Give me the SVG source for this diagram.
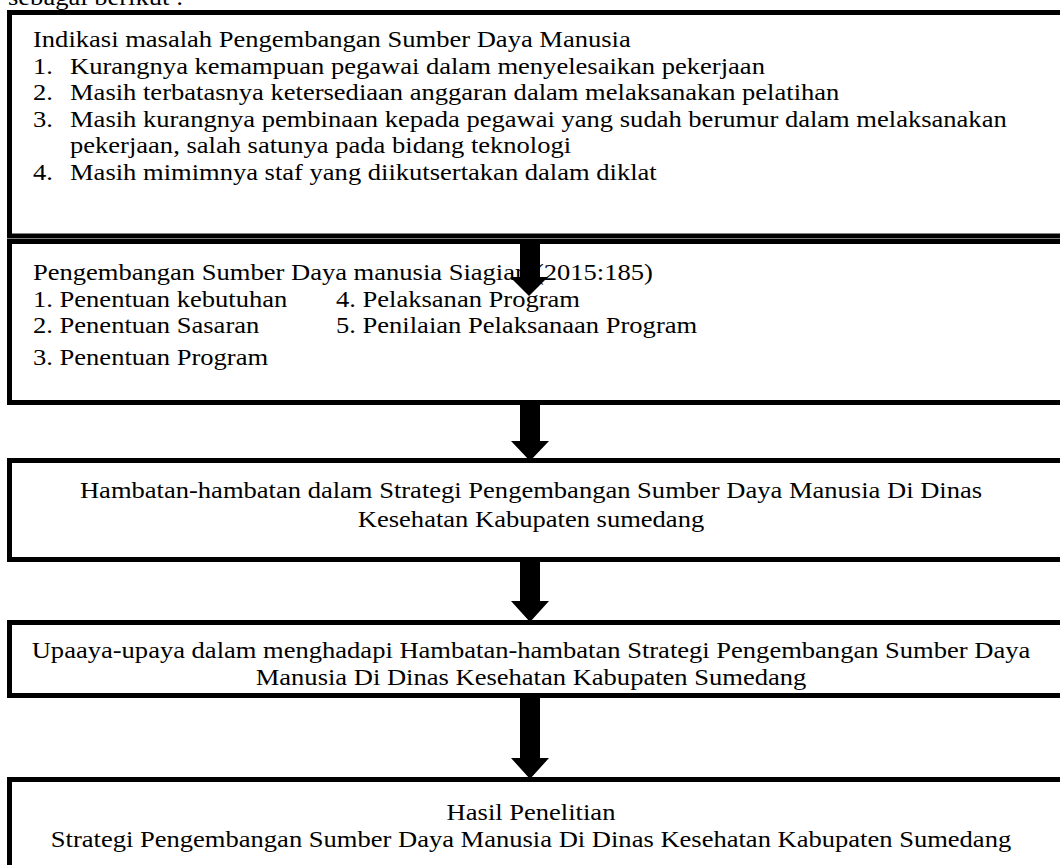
<svg xmlns="http://www.w3.org/2000/svg" width="1060" height="865" viewBox="0 0 1060 865">
<style>
.box{fill:#fff;stroke:#000;stroke-width:5}
.t{font-family:"Liberation Serif","Times New Roman",serif;font-size:22.7px;fill:#000}
.c{text-anchor:middle}
.arr{fill:#000}
</style>
<rect width="1060" height="865" fill="#fff"/>
<text class="t" transform="translate(8,5) scale(1.17,1)">sebagai berikut :</text>
<g id="box1">
<rect class="box" x="9.5" y="12.5" width="1070" height="223.5"/>
<text class="t" transform="translate(33,47) scale(1.17,1)">Indikasi masalah Pengembangan Sumber Daya Manusia</text>
<text class="t" transform="translate(33,73.5) scale(1.17,1)">1.</text>
<text class="t" transform="translate(70,73.5) scale(1.17,1)">Kurangnya kemampuan pegawai dalam menyelesaikan pekerjaan</text>
<text class="t" transform="translate(33,100) scale(1.17,1)">2.</text>
<text class="t" transform="translate(70,100) scale(1.17,1)">Masih terbatasnya ketersediaan anggaran dalam melaksanakan pelatihan</text>
<text class="t" transform="translate(33,126.5) scale(1.17,1)">3.</text>
<text class="t" transform="translate(70,126.5) scale(1.17,1)">Masih kurangnya pembinaan kepada pegawai yang sudah berumur dalam melaksanakan</text>
<text class="t" transform="translate(70,153) scale(1.17,1)">pekerjaan, salah satunya pada bidang teknologi</text>
<text class="t" transform="translate(33,179.5) scale(1.17,1)">4.</text>
<text class="t" transform="translate(70,179.5) scale(1.17,1)">Masih mimimnya staf yang diikutsertakan dalam diklat</text>
</g>
<g id="box2">
<rect class="box" x="9.5" y="241.5" width="1070" height="161"/>
<text class="t" transform="translate(33,280) scale(1.17,1)">Pengembangan Sumber Daya manusia Siagian (2015:185)</text>
<text class="t" transform="translate(33,306.5) scale(1.17,1)">1. Penentuan kebutuhan</text>
<text class="t" transform="translate(336,306.5) scale(1.17,1)">4. Pelaksanan Program</text>
<text class="t" transform="translate(33,333) scale(1.17,1)">2. Penentuan Sasaran</text>
<text class="t" transform="translate(336,333) scale(1.17,1)">5. Penilaian Pelaksanaan Program</text>
<text class="t" transform="translate(33,365) scale(1.17,1)">3. Penentuan Program</text>
</g>
<g id="box3">
<rect class="box" x="9.5" y="460.5" width="1070" height="99"/>
<text class="t c" transform="translate(531,498) scale(1.17,1)">Hambatan-hambatan dalam Strategi Pengembangan Sumber Daya Manusia Di Dinas</text>
<text class="t c" transform="translate(531,527) scale(1.17,1)">Kesehatan Kabupaten sumedang</text>
</g>
<g id="box4">
<rect class="box" x="9.5" y="622.5" width="1070" height="73"/>
<text class="t c" transform="translate(531,658) scale(1.17,1)">Upaaya-upaya dalam menghadapi Hambatan-hambatan Strategi Pengembangan Sumber Daya</text>
<text class="t c" transform="translate(531,685) scale(1.17,1)">Manusia Di Dinas Kesehatan Kabupaten Sumedang</text>
</g>
<g id="box5">
<rect class="box" x="9.5" y="779.5" width="1070" height="100"/>
<text class="t c" transform="translate(531,820) scale(1.17,1)">Hasil Penelitian</text>
<text class="t c" transform="translate(531,847) scale(1.17,1)">Strategi Pengembangan Sumber Daya Manusia Di Dinas Kesehatan Kabupaten Sumedang</text>
</g>
<g id="connectors">
<polygon class="arr" points="520,240 540,240 540,277 548,277 529,296 510,277 520,277"/>
<polygon class="arr" points="520,402 540,402 540,441 549,441 530,461 511,441 520,441"/>
<polygon class="arr" points="520,560 540,560 540,601 549,601 530,622 511,601 520,601"/>
<polygon class="arr" points="520,696 540,696 540,758 549,758 530,779 511,758 520,758"/>
</g>
</svg>
